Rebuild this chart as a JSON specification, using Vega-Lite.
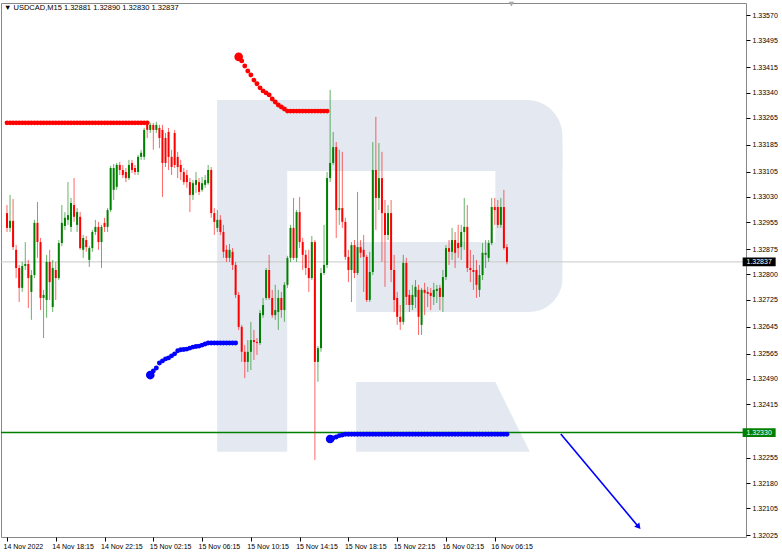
{
"$schema": "https://vega.github.io/schema/vega-lite/v6.json",
"width": 745, "height": 534, "autosize": "none",
"padding": {"left": 1, "top": 3, "right": 36, "bottom": 16},
"background": "white",
"config": {"view": {"stroke": "#888888"}, "font": "Liberation Sans"},
"title": {"text": "▼ USDCAD,M15  1.32881 1.32890 1.32830 1.32837", "anchor": "start", "frame": "group", "orient": "top", "offset": -9, "dy": 7, "fontSize": 7.5, "fontWeight": "normal", "font": "Liberation Sans", "color": "#000000", "baseline": "alphabetic", "dx": 3},
"resolve": {"axis": {"x": "independent", "y": "independent"}},
"datasets": {
"bars": [
{"t":"2022-11-14T14:15","o":1.32982,"h":1.33006,"l":1.32926,"c":1.32938,"r":1.3325},
{"t":"2022-11-14T14:30","o":1.32938,"h":1.33036,"l":1.32926,"c":1.32959,"r":1.3325},
{"t":"2022-11-14T14:45","o":1.32959,"h":1.33024,"l":1.32873,"c":1.32881,"r":1.3325},
{"t":"2022-11-14T15:00","o":1.32873,"h":1.32887,"l":1.32789,"c":1.32819,"r":1.3325},
{"t":"2022-11-14T15:15","o":1.32819,"h":1.32828,"l":1.32718,"c":1.3276,"r":1.3325},
{"t":"2022-11-14T15:30","o":1.3276,"h":1.32837,"l":1.32748,"c":1.32825,"r":1.3325},
{"t":"2022-11-14T15:45","o":1.32825,"h":1.32896,"l":1.32813,"c":1.32831,"r":1.3325},
{"t":"2022-11-14T16:00","o":1.32831,"h":1.32843,"l":1.327,"c":1.32789,"r":1.3325},
{"t":"2022-11-14T16:15","o":1.32748,"h":1.32813,"l":1.32665,"c":1.32798,"r":1.3325},
{"t":"2022-11-14T16:30","o":1.32798,"h":1.32962,"l":1.32789,"c":1.32953,"r":1.3325},
{"t":"2022-11-14T16:45","o":1.32953,"h":1.33015,"l":1.32849,"c":1.32896,"r":1.3325},
{"t":"2022-11-14T17:00","o":1.32896,"h":1.32908,"l":1.32694,"c":1.3273,"r":1.3325},
{"t":"2022-11-14T17:15","o":1.3273,"h":1.32754,"l":1.32611,"c":1.32739,"r":1.3325},
{"t":"2022-11-14T17:30","o":1.32724,"h":1.32858,"l":1.32671,"c":1.32837,"r":1.3325},
{"t":"2022-11-14T17:45","o":1.32837,"h":1.32873,"l":1.32724,"c":1.32777,"r":1.3325},
{"t":"2022-11-14T18:00","o":1.32703,"h":1.32843,"l":1.32688,"c":1.32819,"r":1.3325},
{"t":"2022-11-14T18:15","o":1.32813,"h":1.32837,"l":1.32724,"c":1.32789,"r":1.3325},
{"t":"2022-11-14T18:30","o":1.32789,"h":1.32902,"l":1.32783,"c":1.32893,"r":1.3325},
{"t":"2022-11-14T18:45","o":1.32893,"h":1.33006,"l":1.32884,"c":1.32953,"r":1.3325},
{"t":"2022-11-14T19:00","o":1.32944,"h":1.32985,"l":1.32932,"c":1.32968,"r":1.3325},
{"t":"2022-11-14T19:15","o":1.32962,"h":1.33074,"l":1.32947,"c":1.32976,"r":1.3325},
{"t":"2022-11-14T19:30","o":1.32941,"h":1.33027,"l":1.32926,"c":1.33012,"r":1.3325},
{"t":"2022-11-14T19:45","o":1.33006,"h":1.33086,"l":1.32956,"c":1.32971,"r":1.3325},
{"t":"2022-11-14T20:00","o":1.32947,"h":1.32997,"l":1.32926,"c":1.32985,"r":1.3325},
{"t":"2022-11-14T20:15","o":1.32971,"h":1.32985,"l":1.32873,"c":1.32878,"r":1.3325},
{"t":"2022-11-14T20:30","o":1.32873,"h":1.32917,"l":1.32849,"c":1.32908,"r":1.3325},
{"t":"2022-11-14T20:45","o":1.32902,"h":1.32914,"l":1.32867,"c":1.32881,"r":1.3325},
{"t":"2022-11-14T21:00","o":1.32843,"h":1.32884,"l":1.32822,"c":1.32878,"r":1.3325},
{"t":"2022-11-14T21:15","o":1.32878,"h":1.32932,"l":1.32867,"c":1.32926,"r":1.3325},
{"t":"2022-11-14T21:30","o":1.32926,"h":1.32962,"l":1.32917,"c":1.32941,"r":1.3325},
{"t":"2022-11-14T21:45","o":1.32941,"h":1.32956,"l":1.32873,"c":1.32896,"r":1.3325},
{"t":"2022-11-14T22:00","o":1.32896,"h":1.32947,"l":1.32819,"c":1.32941,"r":1.3325},
{"t":"2022-11-14T22:15","o":1.32953,"h":1.32968,"l":1.32926,"c":1.32941,"r":1.3325},
{"t":"2022-11-14T22:30","o":1.32941,"h":1.32997,"l":1.32926,"c":1.32991,"r":1.3325},
{"t":"2022-11-14T22:45","o":1.32991,"h":1.33122,"l":1.32985,"c":1.33116,"r":1.3325},
{"t":"2022-11-14T23:00","o":1.33051,"h":1.33128,"l":1.33021,"c":1.33116,"r":1.3325},
{"t":"2022-11-14T23:15","o":1.3306,"h":1.33131,"l":1.33051,"c":1.33125,"r":1.3325},
{"t":"2022-11-14T23:30","o":1.33125,"h":1.33134,"l":1.33095,"c":1.3311,"r":1.3325},
{"t":"2022-11-14T23:45","o":1.3311,"h":1.33125,"l":1.33086,"c":1.33095,"r":1.3325},
{"t":"2022-11-15T00:00","o":1.33104,"h":1.33116,"l":1.33074,"c":1.33086,"r":1.3325},
{"t":"2022-11-15T00:15","o":1.33086,"h":1.3314,"l":1.3308,"c":1.33125,"r":1.3325},
{"t":"2022-11-15T00:30","o":1.33131,"h":1.3314,"l":1.33101,"c":1.3311,"r":1.3325},
{"t":"2022-11-15T00:45","o":1.33116,"h":1.33125,"l":1.33095,"c":1.33104,"r":1.3325},
{"t":"2022-11-15T01:00","o":1.33104,"h":1.33155,"l":1.33095,"c":1.33149,"r":1.3325},
{"t":"2022-11-15T01:15","o":1.33149,"h":1.3317,"l":1.3314,"c":1.33161,"r":1.3325},
{"t":"2022-11-15T01:30","o":1.33149,"h":1.33235,"l":1.3314,"c":1.33229,"r":1.3325},
{"t":"2022-11-15T01:45","o":1.33244,"h":1.33256,"l":1.33205,"c":1.33229,"r":1.3325},
{"t":"2022-11-15T02:00","o":1.33229,"h":1.3325,"l":1.3322,"c":1.33244,"b":1.32501},
{"t":"2022-11-15T02:15","o":1.33244,"h":1.3325,"l":1.3317,"c":1.33229,"b":1.32513},
{"t":"2022-11-15T02:30","o":1.33229,"h":1.33253,"l":1.3322,"c":1.33244,"b":1.32522},
{"t":"2022-11-15T02:45","o":1.33235,"h":1.33244,"l":1.33175,"c":1.33205,"b":1.32537},
{"t":"2022-11-15T03:00","o":1.33229,"h":1.33244,"l":1.3303,"c":1.33131,"b":1.32543},
{"t":"2022-11-15T03:15","o":1.33205,"h":1.3322,"l":1.33119,"c":1.33131,"b":1.32549},
{"t":"2022-11-15T03:30","o":1.33223,"h":1.33235,"l":1.3311,"c":1.33149,"b":1.32552},
{"t":"2022-11-15T03:45","o":1.33149,"h":1.3317,"l":1.33095,"c":1.33119,"b":1.32558},
{"t":"2022-11-15T04:00","o":1.3322,"h":1.33229,"l":1.33116,"c":1.33125,"b":1.32564},
{"t":"2022-11-15T04:15","o":1.33149,"h":1.33164,"l":1.33086,"c":1.33119,"b":1.32573},
{"t":"2022-11-15T04:30","o":1.33125,"h":1.3314,"l":1.3308,"c":1.33104,"b":1.32576},
{"t":"2022-11-15T04:45","o":1.33104,"h":1.33116,"l":1.33066,"c":1.33074,"b":1.32577},
{"t":"2022-11-15T05:00","o":1.33095,"h":1.3311,"l":1.33057,"c":1.33074,"b":1.32578},
{"t":"2022-11-15T05:15","o":1.33074,"h":1.33086,"l":1.32985,"c":1.33036,"b":1.32581},
{"t":"2022-11-15T05:30","o":1.33036,"h":1.3308,"l":1.33021,"c":1.33071,"b":1.32584},
{"t":"2022-11-15T05:45","o":1.33066,"h":1.33104,"l":1.33042,"c":1.3308,"b":1.32586},
{"t":"2022-11-15T06:00","o":1.33074,"h":1.33086,"l":1.33036,"c":1.33045,"b":1.32587},
{"t":"2022-11-15T06:15","o":1.33051,"h":1.33089,"l":1.33045,"c":1.33071,"b":1.3259},
{"t":"2022-11-15T06:30","o":1.33066,"h":1.33095,"l":1.33057,"c":1.3308,"b":1.32593},
{"t":"2022-11-15T06:45","o":1.33071,"h":1.33125,"l":1.33066,"c":1.3311,"b":1.32596},
{"t":"2022-11-15T07:00","o":1.3311,"h":1.33119,"l":1.32968,"c":1.32982,"b":1.32596},
{"t":"2022-11-15T07:15","o":1.32982,"h":1.32997,"l":1.32917,"c":1.32956,"b":1.32596},
{"t":"2022-11-15T07:30","o":1.32938,"h":1.32991,"l":1.32926,"c":1.32962,"b":1.32596},
{"t":"2022-11-15T07:45","o":1.32962,"h":1.32976,"l":1.32917,"c":1.32926,"b":1.32596},
{"t":"2022-11-15T08:00","o":1.32926,"h":1.32947,"l":1.32849,"c":1.32867,"b":1.32596},
{"t":"2022-11-15T08:15","o":1.32873,"h":1.32887,"l":1.32837,"c":1.32849,"b":1.32596},
{"t":"2022-11-15T08:30","o":1.32849,"h":1.3289,"l":1.32837,"c":1.32873,"b":1.32596},
{"t":"2022-11-15T08:45","o":1.32867,"h":1.32878,"l":1.32813,"c":1.32828,"b":1.32596},
{"t":"2022-11-15T09:00","o":1.32828,"h":1.32837,"l":1.3273,"c":1.32739,"b":1.32596},
{"t":"2022-11-15T09:15","o":1.32739,"h":1.32748,"l":1.32635,"c":1.32644,"r":1.33446},
{"t":"2022-11-15T09:30","o":1.32644,"h":1.3265,"l":1.3254,"c":1.3257,"r":1.33434},
{"t":"2022-11-15T09:45","o":1.3257,"h":1.3259,"l":1.32492,"c":1.3254,"r":1.33419},
{"t":"2022-11-15T10:00","o":1.3254,"h":1.32605,"l":1.3251,"c":1.3257,"r":1.33404},
{"t":"2022-11-15T10:15","o":1.3257,"h":1.32659,"l":1.32516,"c":1.32605,"r":1.33392},
{"t":"2022-11-15T10:30","o":1.32605,"h":1.32635,"l":1.32546,"c":1.32599,"r":1.33377},
{"t":"2022-11-15T10:45","o":1.32599,"h":1.32611,"l":1.32561,"c":1.32596,"r":1.33366},
{"t":"2022-11-15T11:00","o":1.32596,"h":1.32694,"l":1.3259,"c":1.32685,"r":1.33354},
{"t":"2022-11-15T11:15","o":1.32679,"h":1.3273,"l":1.32671,"c":1.32709,"r":1.33345},
{"t":"2022-11-15T11:30","o":1.3273,"h":1.32819,"l":1.32724,"c":1.32813,"r":1.33339},
{"t":"2022-11-15T11:45","o":1.32813,"h":1.32858,"l":1.32724,"c":1.3273,"r":1.33333},
{"t":"2022-11-15T12:00","o":1.3273,"h":1.32754,"l":1.32671,"c":1.32679,"r":1.33321},
{"t":"2022-11-15T12:15","o":1.32679,"h":1.32769,"l":1.32665,"c":1.32694,"r":1.33312},
{"t":"2022-11-15T12:30","o":1.32688,"h":1.32754,"l":1.32635,"c":1.3273,"r":1.33303},
{"t":"2022-11-15T12:45","o":1.3273,"h":1.32748,"l":1.32671,"c":1.32694,"r":1.33297},
{"t":"2022-11-15T13:00","o":1.32694,"h":1.32777,"l":1.32659,"c":1.32769,"r":1.33291},
{"t":"2022-11-15T13:15","o":1.32769,"h":1.32855,"l":1.3276,"c":1.32849,"r":1.33285},
{"t":"2022-11-15T13:30","o":1.32849,"h":1.32947,"l":1.32837,"c":1.32938,"r":1.33285},
{"t":"2022-11-15T13:45","o":1.32938,"h":1.33027,"l":1.32843,"c":1.32849,"r":1.33285},
{"t":"2022-11-15T14:00","o":1.32849,"h":1.32991,"l":1.32837,"c":1.32985,"r":1.33285},
{"t":"2022-11-15T14:15","o":1.32985,"h":1.3303,"l":1.32878,"c":1.32896,"r":1.33285},
{"t":"2022-11-15T14:30","o":1.32896,"h":1.32908,"l":1.32813,"c":1.32858,"r":1.33285},
{"t":"2022-11-15T14:45","o":1.32858,"h":1.32873,"l":1.32798,"c":1.32819,"r":1.33285},
{"t":"2022-11-15T15:00","o":1.32819,"h":1.32873,"l":1.32748,"c":1.32789,"r":1.33285},
{"t":"2022-11-15T15:15","o":1.32789,"h":1.32914,"l":1.32783,"c":1.32896,"r":1.33285},
{"t":"2022-11-15T15:30","o":1.32896,"h":1.32902,"l":1.32249,"c":1.3254,"r":1.33285},
{"t":"2022-11-15T15:45","o":1.3254,"h":1.32587,"l":1.32481,"c":1.32581,"r":1.33285},
{"t":"2022-11-15T16:00","o":1.32581,"h":1.32819,"l":1.3257,"c":1.32804,"r":1.33285},
{"t":"2022-11-15T16:15","o":1.32804,"h":1.32947,"l":1.32798,"c":1.32828,"r":1.33285},
{"t":"2022-11-15T16:30","o":1.32828,"h":1.33104,"l":1.32819,"c":1.33086,"r":1.33285},
{"t":"2022-11-15T16:45","o":1.33086,"h":1.33348,"l":1.33074,"c":1.33131,"b":1.32311},
{"t":"2022-11-15T17:00","o":1.33131,"h":1.33223,"l":1.33125,"c":1.33178,"b":1.32314},
{"t":"2022-11-15T17:15","o":1.33178,"h":1.33193,"l":1.32908,"c":1.32991,"b":1.32317},
{"t":"2022-11-15T17:30","o":1.32991,"h":1.3317,"l":1.32947,"c":1.32997,"b":1.32321},
{"t":"2022-11-15T17:45","o":1.32997,"h":1.33164,"l":1.32938,"c":1.32956,"b":1.32323},
{"t":"2022-11-15T18:00","o":1.32956,"h":1.32968,"l":1.32843,"c":1.32852,"b":1.32325},
{"t":"2022-11-15T18:15","o":1.32852,"h":1.32873,"l":1.32777,"c":1.32813,"b":1.32325},
{"t":"2022-11-15T18:30","o":1.32813,"h":1.32896,"l":1.32718,"c":1.32887,"b":1.32325},
{"t":"2022-11-15T18:45","o":1.32887,"h":1.32902,"l":1.32789,"c":1.32804,"b":1.32325},
{"t":"2022-11-15T19:00","o":1.32804,"h":1.33045,"l":1.32798,"c":1.32881,"b":1.32325},
{"t":"2022-11-15T19:15","o":1.32881,"h":1.32902,"l":1.32849,"c":1.32864,"b":1.32325},
{"t":"2022-11-15T19:30","o":1.32873,"h":1.32917,"l":1.32748,"c":1.32852,"b":1.32325},
{"t":"2022-11-15T19:45","o":1.32852,"h":1.32858,"l":1.32718,"c":1.32724,"b":1.32325},
{"t":"2022-11-15T20:00","o":1.32724,"h":1.32867,"l":1.32718,"c":1.32807,"b":1.32325},
{"t":"2022-11-15T20:15","o":1.32807,"h":1.33193,"l":1.32798,"c":1.3311,"b":1.32325},
{"t":"2022-11-15T20:30","o":1.3311,"h":1.33268,"l":1.32932,"c":1.33027,"b":1.32325},
{"t":"2022-11-15T20:45","o":1.33027,"h":1.3319,"l":1.32991,"c":1.33086,"b":1.32325},
{"t":"2022-11-15T21:00","o":1.33086,"h":1.33164,"l":1.32837,"c":1.32982,"b":1.32325},
{"t":"2022-11-15T21:15","o":1.32982,"h":1.33021,"l":1.32763,"c":1.32917,"b":1.32325},
{"t":"2022-11-15T21:30","o":1.32917,"h":1.33006,"l":1.32902,"c":1.32982,"b":1.32325},
{"t":"2022-11-15T21:45","o":1.32982,"h":1.33021,"l":1.32777,"c":1.32813,"b":1.32325},
{"t":"2022-11-15T22:00","o":1.32813,"h":1.32858,"l":1.32688,"c":1.32724,"b":1.32325},
{"t":"2022-11-15T22:15","o":1.3273,"h":1.32748,"l":1.3265,"c":1.32674,"b":1.32325},
{"t":"2022-11-15T22:30","o":1.32674,"h":1.32709,"l":1.32635,"c":1.32659,"b":1.32325},
{"t":"2022-11-15T22:45","o":1.32659,"h":1.32858,"l":1.3265,"c":1.32834,"b":1.32325},
{"t":"2022-11-15T23:00","o":1.32834,"h":1.32849,"l":1.32709,"c":1.32733,"b":1.32325},
{"t":"2022-11-15T23:15","o":1.32739,"h":1.32754,"l":1.32688,"c":1.32709,"b":1.32325},
{"t":"2022-11-15T23:30","o":1.32709,"h":1.32769,"l":1.32694,"c":1.32739,"b":1.32325},
{"t":"2022-11-15T23:45","o":1.32733,"h":1.32783,"l":1.327,"c":1.32763,"b":1.32325},
{"t":"2022-11-16T00:00","o":1.32754,"h":1.32769,"l":1.3262,"c":1.32674,"b":1.32325},
{"t":"2022-11-16T00:15","o":1.3265,"h":1.3276,"l":1.3262,"c":1.32754,"b":1.32325},
{"t":"2022-11-16T00:30","o":1.32754,"h":1.32775,"l":1.32679,"c":1.32745,"b":1.32325},
{"t":"2022-11-16T00:45","o":1.32748,"h":1.32763,"l":1.32703,"c":1.32742,"b":1.32325},
{"t":"2022-11-16T01:00","o":1.32745,"h":1.3276,"l":1.32694,"c":1.32736,"b":1.32325},
{"t":"2022-11-16T01:15","o":1.32733,"h":1.32775,"l":1.32709,"c":1.32754,"b":1.32325},
{"t":"2022-11-16T01:30","o":1.32751,"h":1.32769,"l":1.32715,"c":1.32757,"b":1.32325},
{"t":"2022-11-16T01:45","o":1.3276,"h":1.32769,"l":1.32694,"c":1.32733,"b":1.32325},
{"t":"2022-11-16T02:00","o":1.32733,"h":1.32813,"l":1.32688,"c":1.32792,"b":1.32325},
{"t":"2022-11-16T02:15","o":1.32792,"h":1.32887,"l":1.32783,"c":1.32878,"b":1.32325},
{"t":"2022-11-16T02:30","o":1.32878,"h":1.32902,"l":1.32828,"c":1.32867,"b":1.32325},
{"t":"2022-11-16T02:45","o":1.32867,"h":1.32938,"l":1.32843,"c":1.32902,"b":1.32325},
{"t":"2022-11-16T03:00","o":1.32902,"h":1.32926,"l":1.32819,"c":1.32864,"b":1.32325},
{"t":"2022-11-16T03:15","o":1.32893,"h":1.32947,"l":1.32849,"c":1.32878,"b":1.32325},
{"t":"2022-11-16T03:30","o":1.32881,"h":1.32947,"l":1.32843,"c":1.32926,"b":1.32325},
{"t":"2022-11-16T03:45","o":1.32926,"h":1.33027,"l":1.32873,"c":1.32941,"b":1.32325},
{"t":"2022-11-16T04:00","o":1.32941,"h":1.33006,"l":1.32807,"c":1.32819,"b":1.32325},
{"t":"2022-11-16T04:15","o":1.32819,"h":1.32873,"l":1.32777,"c":1.32813,"b":1.32325},
{"t":"2022-11-16T04:30","o":1.32813,"h":1.32858,"l":1.32754,"c":1.32807,"b":1.32325},
{"t":"2022-11-16T04:45","o":1.32813,"h":1.32843,"l":1.3273,"c":1.32769,"b":1.32325},
{"t":"2022-11-16T05:00","o":1.32754,"h":1.32828,"l":1.32733,"c":1.32798,"b":1.32325},
{"t":"2022-11-16T05:15","o":1.32798,"h":1.32893,"l":1.32783,"c":1.32864,"b":1.32325},
{"t":"2022-11-16T05:30","o":1.32858,"h":1.32902,"l":1.32819,"c":1.32864,"b":1.32325},
{"t":"2022-11-16T05:45","o":1.32849,"h":1.32902,"l":1.32837,"c":1.32893,"b":1.32325},
{"t":"2022-11-16T06:00","o":1.32893,"h":1.33027,"l":1.32887,"c":1.33,"b":1.32325},
{"t":"2022-11-16T06:15","o":1.33,"h":1.33027,"l":1.32947,"c":1.32991,"b":1.32325},
{"t":"2022-11-16T06:30","o":1.33,"h":1.33021,"l":1.32938,"c":1.32947,"b":1.32325},
{"t":"2022-11-16T06:45","o":1.32947,"h":1.33027,"l":1.32938,"c":1.33,"b":1.32325},
{"t":"2022-11-16T07:00","o":1.33,"h":1.33051,"l":1.32873,"c":1.32878,"b":1.32325},
{"t":"2022-11-16T07:15","o":1.32881,"h":1.3289,"l":1.3283,"c":1.32837,"b":1.32325}
],
"logo": [
{"part":"stem","t":"2022-11-15T07:29","t2":"2022-11-15T13:14","p":1.33318,"p2":1.32273},
{"part":"top","t":"2022-11-15T07:29","t2":"2022-11-16T11:48","p":1.33318,"p2":1.33107},
{"part":"right","t":"2022-11-16T06:18","t2":"2022-11-16T11:48","p":1.3318,"p2":1.32688},
{"part":"bowl","t":"2022-11-15T18:53","t2":"2022-11-16T07:00","p":1.32896,"p2":1.32688}
],
"leg": [
{"t":"2022-11-15T18:53","p":1.3248,"p2":1.32273},
{"t":"2022-11-16T06:18","p":1.3248,"p2":1.32273},
{"t":"2022-11-16T09:08","p":1.32273,"p2":1.32273}
],
"starts": [
{"t":"2022-11-15T02:00","p":1.32501,"s":"b"},
{"t":"2022-11-15T09:15","p":1.33446,"s":"r"},
{"t":"2022-11-15T16:45","p":1.32311,"s":"b"}
],
"arrow": [
{"t":"2022-11-16T11:40","p":1.32326,"pt":"a"},
{"t":"2022-11-16T18:03","p":1.3205,"pt":"b"}
],
"tags": [
{"p":1.32837,"lbl":"1.32837","k":"bid"},
{"p":1.3233,"lbl":"1.32330","k":"line"}
],
"shift": [{"t":"2022-11-16T07:37","p":1.33603}]
},
"layer": [
{"data":{"name":"logo"},"transform":[{"filter":"datum.part=='stem' || datum.part=='bowl'"}],
 "mark":{"type":"rect","color":"#e4e9f1"},
 "encoding":{
  "x":{"field":"t","type":"temporal","axis":null,"scale":{"domain":[{"year":2022,"month":11,"date":14,"hours":14,"minutes":10,"seconds":9},{"year":2022,"month":11,"date":17,"hours":2,"minutes":26,"seconds":42}]}},
  "x2":{"field":"t2"},
  "y":{"field":"p","type":"quantitative","axis":null,"scale":{"domain":[1.3202,1.33606],"zero":false,"nice":false}},
  "y2":{"field":"p2"}}},
{"data":{"name":"logo"},"transform":[{"filter":"datum.part=='top'"}],
 "mark":{"type":"rect","color":"#e4e9f1","cornerRadiusTopRight":40},
 "encoding":{
  "x":{"field":"t","type":"temporal","axis":null},
  "x2":{"field":"t2"},
  "y":{"field":"p","type":"quantitative","axis":null},
  "y2":{"field":"p2"}}},
{"data":{"name":"logo"},"transform":[{"filter":"datum.part=='right'"}],
 "mark":{"type":"rect","color":"#e4e9f1","cornerRadiusBottomRight":35},
 "encoding":{
  "x":{"field":"t","type":"temporal","axis":null},
  "x2":{"field":"t2"},
  "y":{"field":"p","type":"quantitative","axis":null},
  "y2":{"field":"p2"}}},
{"data":{"name":"leg"},
 "mark":{"type":"area","color":"#e4e9f1","orient":"vertical"},
 "encoding":{
  "x":{"field":"t","type":"temporal","axis":null},
  "y":{"field":"p","type":"quantitative","axis":null},
  "y2":{"field":"p2"}}},
{"data":{"name":"tags"},
 "mark":{"type":"rule"},
 "encoding":{
  "y":{"field":"p","type":"quantitative","axis":null},
  "color":{"condition":{"test":"datum.k=='bid'","value":"#c8c8c8"},"value":"#008000"},
  "strokeWidth":{"condition":{"test":"datum.k=='bid'","value":1},"value":1.5}}},
{"data":{"name":"bars"},
 "mark":{"type":"rule","strokeWidth":1,"opacity":0.6},
 "encoding":{
  "x":{"field":"t","type":"temporal",
   "axis":{"values":[{"year":2022,"month":11,"date":14,"hours":14,"minutes":15},{"year":2022,"month":11,"date":14,"hours":18,"minutes":15},{"year":2022,"month":11,"date":14,"hours":22,"minutes":15},{"year":2022,"month":11,"date":15,"hours":2,"minutes":15},{"year":2022,"month":11,"date":15,"hours":6,"minutes":15},{"year":2022,"month":11,"date":15,"hours":10,"minutes":15},{"year":2022,"month":11,"date":15,"hours":14,"minutes":15},{"year":2022,"month":11,"date":15,"hours":18,"minutes":15},{"year":2022,"month":11,"date":15,"hours":22,"minutes":15},{"year":2022,"month":11,"date":16,"hours":2,"minutes":15},{"year":2022,"month":11,"date":16,"hours":6,"minutes":15}],
    "labelExpr":"date(datum.value) == 14 && hours(datum.value) == 14 ? '14 Nov 2022' : timeFormat(datum.value, '%d %b %H:%M')",
    "title":null,"grid":false,"domain":false,"tickSize":4,"tickColor":"#000000","labelAlign":"left","labelBaseline":"top","labelPadding":1,"labelOffset":-4,"labelFontSize":7,"labelFont":"Liberation Sans","labelColor":"#000000","labelOverlap":false,"labelFlush":false}},
  "y":{"field":"l","type":"quantitative",
   "axis":{"orient":"right","values":[1.3357,1.33495,1.33415,1.3334,1.33265,1.33185,1.33105,1.3303,1.32955,1.32875,1.328,1.32725,1.32645,1.32565,1.3249,1.32415,1.32255,1.3218,1.32105,1.32025],
    "format":".5f","title":null,"grid":false,"domain":false,"tickSize":4,"tickColor":"#000000","labelAlign":"left","labelBaseline":"middle","labelPadding":2,"labelFontSize":7,"labelFont":"Liberation Sans","labelColor":"#000000","labelOverlap":false,"labelFlush":false}},
  "y2":{"field":"h"},
  "color":{"condition":{"test":"datum.c >= datum.o","value":"#008000"},"value":"#ff0000"}}},
{"data":{"name":"bars"},
 "mark":{"type":"bar","width":2},
 "encoding":{
  "x":{"field":"t","type":"temporal","axis":null},
  "y":{"field":"o","type":"quantitative","axis":null},
  "y2":{"field":"c"},
  "color":{"condition":{"test":"datum.c >= datum.o","value":"#008000"},"value":"#ff0000"}}},
{"data":{"name":"bars"},"transform":[{"filter":"isValid(datum.r)"}],
 "mark":{"type":"point","filled":true,"opacity":1,"size":24,"color":"#ff0000"},
 "encoding":{
  "x":{"field":"t","type":"temporal","axis":null},
  "y":{"field":"r","type":"quantitative","axis":null}}},
{"data":{"name":"bars"},"transform":[{"filter":"isValid(datum.b)"}],
 "mark":{"type":"point","filled":true,"opacity":1,"size":24,"color":"#0000ff"},
 "encoding":{
  "x":{"field":"t","type":"temporal","axis":null},
  "y":{"field":"b","type":"quantitative","axis":null}}},
{"data":{"name":"starts"},
 "mark":{"type":"point","filled":true,"opacity":1,"size":75},
 "encoding":{
  "x":{"field":"t","type":"temporal","axis":null},
  "y":{"field":"p","type":"quantitative","axis":null},
  "color":{"condition":{"test":"datum.s=='r'","value":"#ff0000"},"value":"#0000ff"}}},
{"data":{"name":"arrow"},
 "mark":{"type":"line","color":"#0000ff","strokeWidth":1.6},
 "encoding":{
  "x":{"field":"t","type":"temporal","axis":null},
  "y":{"field":"p","type":"quantitative","axis":null}}},
{"data":{"name":"arrow"},"transform":[{"filter":"datum.pt=='b'"}],
 "mark":{"type":"point","shape":"triangle-up","angle":140,"filled":true,"opacity":1,"size":45,"color":"#0000ff"},
 "encoding":{
  "x":{"field":"t","type":"temporal","axis":null},
  "y":{"field":"p","type":"quantitative","axis":null}}},
{"data":{"name":"tags"},
 "mark":{"type":"point","shape":"M-1,-0.27L1,-0.27L1,0.27L-1,0.27Z","filled":true,"opacity":1,"size":1089},
 "encoding":{
  "x":{"datum":{"year":2022,"month":11,"date":17,"hours":3,"minutes":56},"type":"temporal","axis":null},
  "y":{"field":"p","type":"quantitative","axis":null},
  "color":{"condition":{"test":"datum.k=='bid'","value":"#000000"},"value":"#008000"}}},
{"data":{"name":"tags"},
 "mark":{"type":"text","color":"#ffffff","fontSize":7,"font":"Liberation Sans","align":"center","baseline":"middle"},
 "encoding":{
  "x":{"datum":{"year":2022,"month":11,"date":17,"hours":3,"minutes":56},"type":"temporal","axis":null},
  "y":{"field":"p","type":"quantitative","axis":null},
  "text":{"field":"lbl"}}},
{"data":{"name":"shift"},
 "mark":{"type":"point","shape":"triangle-down","filled":true,"opacity":1,"size":30,"color":"#a8a8a8"},
 "encoding":{
  "x":{"field":"t","type":"temporal","axis":null},
  "y":{"field":"p","type":"quantitative","axis":null}}}
]
}
